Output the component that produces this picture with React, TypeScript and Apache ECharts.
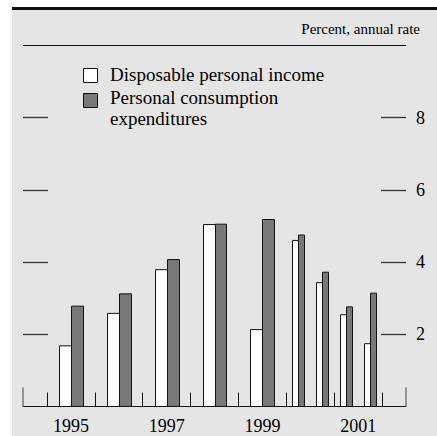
import React, { useEffect, useRef } from "react";
import * as echarts from "echarts";

const periods = ["1995", "1996", "1997", "1998", "1999", "2000:H1", "2000:H2", "2001:H1", "2001:H2"];
const incomeValues = [1.68, 2.58, 3.79, 5.04, 2.13, 4.6, 3.43, 2.54, 1.74];
const pceValues = [2.78, 3.12, 4.07, 5.05, 5.18, 4.75, 3.72, 2.76, 3.14];
const yearTicks = [1995, 1996, 1997, 1998, 1999, 2000, 2001, 2002];
const yearLabels = [1995, 1997, 1999, 2001];
const valueTicks = [2, 4, 6, 8];
const legendIncome = "Disposable personal income";
const legendPce = "Personal consumption\nexpenditures";
const unitLabel = "Percent, annual rate";

const FONT = "Liberation Serif";

function periodToX(p: string): number {
  const [y, h] = p.split(":");
  const year = Number(y);
  if (h === "H1") return year + 0.25;
  if (h === "H2") return year + 0.75;
  return year + 0.5;
}
function periodWidth(p: string): number {
  return p.includes(":") ? 0.125 : 0.25;
}

function makeRender(side: "left" | "right", fill: string) {
  return (params: any, api: any) => {
    const p = periods[params.dataIndex];
    const x = api.value(0);
    const v = api.value(1);
    const w = periodWidth(p);
    const x0 = side === "left" ? x - w : x;
    const x1 = side === "left" ? x : x + w;
    const a = api.coord([x0, v]);
    const b = api.coord([x1, 0]);
    const left = Math.round(a[0]) + 0.5;
    const right = Math.round(b[0]) + 0.5;
    return {
      type: "rect",
      shape: { x: left, y: a[1], width: right - left, height: b[1] - a[1] },
      style: { fill, stroke: "#111", lineWidth: 1 },
    };
  };
}

export default function App() {
  const ref = useRef<HTMLDivElement>(null);
  useEffect(() => {
    if (!ref.current) return;
    const chart = echarts.init(ref.current, undefined, { renderer: "svg" });
    const mk = (vals: number[]) =>
      periods.map((p, i) => ({ name: p, value: [periodToX(p), vals[i]] }));
    chart.setOption({
      animation: false,
      backgroundColor: "#ffffff",
      textStyle: { fontFamily: FONT },
      grid: { left: 23, right: 31, top: 45.5, bottom: 29.5 },
      xAxis: [
        {
          type: "value",
          min: 1994.5,
          max: 2002.5,
          position: "bottom",
          axisLine: { show: true, onZero: false, lineStyle: { color: "#111", width: 1 } },
          axisTick: {
            show: true,
            inside: true,
            length: 14,
            customValues: yearTicks,
            lineStyle: { color: "#111", width: 1 },
          },
          axisLabel: {
            show: true,
            customValues: yearLabels.map((y) => y + 0.5),
            formatter: (v: number) => String(Math.floor(v)),
            margin: 10,
            fontFamily: FONT,
            fontSize: 18,
            color: "#000",
          },
          splitLine: { show: false },
        },
        {
          type: "value",
          min: 1994.5,
          max: 2002.5,
          position: "bottom",
          axisLine: { show: false },
          axisTick: {
            show: true,
            inside: true,
            length: 19,
            customValues: [1994.5, 2002.5],
            lineStyle: { color: "#777", width: 1.5 },
          },
          axisLabel: { show: false },
          splitLine: { show: false },
        },
      ],
      yAxis: [
        {
          type: "value",
          min: 0,
          max: 10,
          position: "left",
          axisLine: { show: false },
          axisTick: {
            show: true,
            inside: true,
            length: 25,
            customValues: valueTicks,
            lineStyle: { color: "#333", width: 1.3 },
          },
          axisLabel: { show: false },
          splitLine: { show: false },
        },
        {
          type: "value",
          min: 0,
          max: 10,
          position: "right",
          axisLine: { show: false },
          axisTick: {
            show: true,
            inside: true,
            length: 25,
            customValues: valueTicks,
            lineStyle: { color: "#333", width: 1.3 },
          },
          axisLabel: {
            show: true,
            customValues: valueTicks,
            margin: 10,
            fontFamily: FONT,
            fontSize: 18,
            color: "#000",
          },
          splitLine: { show: false },
        },
      ],
      graphic: [
        {
          type: "rect",
          z: -100,
          shape: { x: 12, y: 8, width: 425, height: 428 },
          style: { fill: "#e5e5e5" },
        },
        {
          type: "rect",
          z: -90,
          shape: { x: 12, y: 7, width: 425, height: 3 },
          style: { fill: "#111" },
        },
        {
          type: "line",
          shape: { x1: 23, y1: 45.5, x2: 406, y2: 45.5 },
          style: { stroke: "#111", lineWidth: 1.2 },
        },
        {
          type: "text",
          x: 420,
          y: 29,
          style: {
            text: unitLabel,
            fontFamily: FONT,
            fontSize: 15,
            fill: "#000",
            textAlign: "right",
            textVerticalAlign: "middle",
          },
        },
        {
          type: "rect",
          shape: { x: 83.5, y: 68.5, width: 14, height: 14 },
          style: { fill: "#fff", stroke: "#111", lineWidth: 1 },
        },
        {
          type: "text",
          x: 110,
          y: 74.5,
          style: {
            text: legendIncome,
            fontFamily: FONT,
            fontSize: 19,
            fill: "#000",
            textAlign: "left",
            textVerticalAlign: "middle",
          },
        },
        {
          type: "rect",
          shape: { x: 83.5, y: 93.5, width: 14, height: 14 },
          style: { fill: "#787878", stroke: "#111", lineWidth: 1 },
        },
        {
          type: "text",
          x: 110,
          y: 108,
          style: {
            text: legendPce,
            fontFamily: FONT,
            fontSize: 19,
            lineHeight: 21,
            fill: "#000",
            textAlign: "left",
            textVerticalAlign: "middle",
          },
        },
      ],
      series: [
        {
          type: "custom",
          name: "Disposable personal income",
          xAxisIndex: 0,
          yAxisIndex: 0,
          renderItem: makeRender("left", "#ffffff"),
          data: mk(incomeValues),
          z: 3,
        },
        {
          type: "custom",
          name: "Personal consumption expenditures",
          xAxisIndex: 0,
          yAxisIndex: 0,
          renderItem: makeRender("right", "#787878"),
          data: mk(pceValues),
          z: 3,
        },
      ],
    });
    return () => chart.dispose();
  }, []);
  return (
    <div
      ref={ref}
      style={{ position: "fixed", left: 0, top: 0, width: 437, height: 436 }}
    />
  );
}
